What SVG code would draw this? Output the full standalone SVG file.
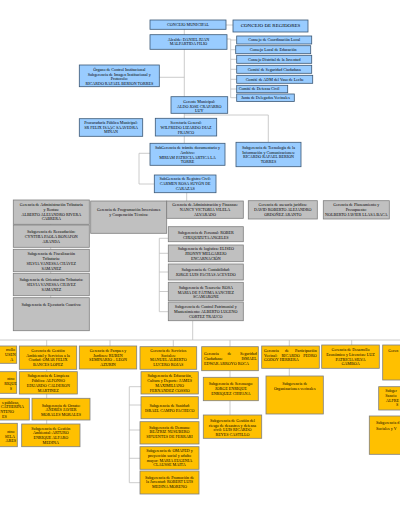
<svg xmlns="http://www.w3.org/2000/svg" width="400" height="516" viewBox="0 0 400 516">
<style>
.b{fill:#99CCFF;stroke:#3B5876;stroke-width:0.8}
.g{fill:#C0C0C0;stroke:#7F7F7F;stroke-width:0.8}
.y{fill:#FFC000;stroke:#7F7F7F;stroke-width:0.8}
text{font-family:"Liberation Serif","Times New Roman",serif;font-size:4.1px;fill:#000}
.c{text-anchor:middle}
.e{text-anchor:end}
.big{font-size:5px}
.conn{fill:none;stroke:#BFBFBF;stroke-width:0.8}
</style>
<rect width="400" height="516" fill="#fff"/>
<g id="connectors" class="conn">
<path d="M184.3 29V97 M159.3 77.3H184.3 M226 25H233 M227 39H230.7 M230.7 39V97.7 M230.7 40H236.7 M230.7 49.7H235.7 M230.7 59.3H236.7 M230.7 69.3H236.7 M230.7 79.3H236.7 M230.7 89H236.7 M230.7 97.7H236.7 M184.3 113V143 M184.3 115H268.3V142.3 M150 153.3H139V184H154.3 M186.7 192.7V201 M50.7 224V298 M159.3 238.3V311.7 M159.3 238.3H168.3 M159.3 253.3H168.3 M159.3 272H168.3 M159.3 291.5H168.3 M159.3 311.7H168.3 M192.7 320.7V340 M0 340H400 M46.7 340V424 M110 340V346 M173.3 340V346.7 M230 340V415 M289.3 340V376 M351.7 340V345 M129.3 386.7V482.7 M129.3 386.7H141 M129.3 405H141 M129.3 430H140 M129.3 458.3H140 M129.3 482.7H140"/>
</g>
<g id="concejo-municipal"><rect class="b" x="150" y="20" width="76" height="9.3"/><text class="c"><tspan x="188" y="26.2">CONCEJO MUNICIPAL</tspan></text></g>
<g id="concejo-regidores"><rect class="b" x="233" y="20" width="75" height="12"/><text class="c big"><tspan x="270.5" y="27">CONCEJO DE REGIDORES</tspan></text></g>
<g id="alcalde"><rect class="b" x="150" y="34.7" width="77" height="14.6"/><text class="c"><tspan x="188.5" y="40.7">Alcalde: DANIEL JUAN</tspan><tspan x="188.5" y="45.4">MALPARTIDA FILIO</tspan></text></g>
<g id="consejo-coordinacion"><rect class="b" x="236.7" y="36" width="75" height="8"/><text class="c"><tspan x="274.2" y="41.4">Consejo de Coordinación Local</tspan></text></g>
<g id="consejo-educacion"><rect class="b" x="235.7" y="45.7" width="75" height="8"/><text class="c"><tspan x="273.2" y="51.1">Consejo Local de Educación</tspan></text></g>
<g id="consejo-juventud"><rect class="b" x="236.7" y="55.3" width="75" height="8"/><text class="c"><tspan x="274.2" y="60.7">Consejo Distrital de la Juventud</tspan></text></g>
<g id="comite-seguridad"><rect class="b" x="236.7" y="65.3" width="75" height="8"/><text class="c"><tspan x="274.2" y="70.7">Comité de Seguridad Ciudadana</tspan></text></g>
<g id="comite-vaso-leche"><rect class="b" x="236.7" y="75.3" width="76" height="8"/><text class="c"><tspan x="274.7" y="80.7">Comité de ADM del Vaso de Leche</tspan></text></g>
<g id="comite-defensa-civil"><rect class="b" x="236.7" y="85.3" width="51" height="7.4"/><text class="c"><tspan x="259" y="90.4">Comité de Defensa Civil</tspan></text></g>
<g id="junta-delegados"><rect class="b" x="236.7" y="94" width="57.6" height="7.4"/><text class="c"><tspan x="265.5" y="99.1">Junta de Delegados Vecinales</tspan></text></g>
<g id="organo-control"><rect class="b" x="79.3" y="65" width="80" height="21.7"/><text class="c"><tspan x="119.3" y="70.7">Órgano de Control Institucional</tspan><tspan x="119.3" y="75.5">Subgerencia de Imagen Institucional y</tspan><tspan x="119.3" y="80.2">Protocolo:</tspan><tspan x="119.3" y="85">RICARDO RAFAEL BERION TORRES</tspan></text></g>
<g id="gerente-municipal"><rect class="b" x="171" y="96.7" width="56.7" height="16.6"/><text class="c"><tspan x="199.3" y="102.7">Gerente Municipal:</tspan><tspan x="199.3" y="107.5">ALDO JOSE CRAPARRO</tspan><tspan x="199.3" y="112">LUY</tspan></text></g>
<g id="procuraduria"><rect class="b" x="79.3" y="118.7" width="63.4" height="17.6"/><text class="c"><tspan x="111" y="124.1">Procuraduría Pública Municipal:</tspan><tspan x="111" y="128.7">SR FELIX ISAAC SAAVEDRA</tspan><tspan x="111" y="133.4">MIÑAN</tspan></text></g>
<g id="secretaria-general"><rect class="b" x="155.3" y="118.3" width="61.4" height="17.7"/><text class="c"><tspan x="186" y="124.4">Secretaría General:</tspan><tspan x="186" y="129.4">WILFREDO LIZARDO DIAZ</tspan><tspan x="186" y="134">FRANCO</tspan></text></g>
<g id="tramite-documentario"><rect class="b" x="150" y="143.3" width="75" height="22"/><text class="c"><tspan x="187.5" y="149.1">SubGerencia de trámite documentario y</tspan><tspan x="187.5" y="153.7">Archivo:</tspan><tspan x="187.5" y="158.7">MIRIAM PATRICIA ARTICA LA</tspan><tspan x="187.5" y="163.4">TORRE</tspan></text></g>
<g id="tecnologia"><rect class="b" x="236" y="142.3" width="65" height="24.4"/><text class="c"><tspan x="268.5" y="149.1">Subgerencia de Tecnología de la</tspan><tspan x="268.5" y="153.7">Información y Comunicaciones:</tspan><tspan x="268.5" y="158.4">RICARDO RAFAEL BERION</tspan><tspan x="268.5" y="163.1">TORRES</tspan></text></g>
<g id="registro-civil"><rect class="b" x="154.3" y="175" width="61.7" height="17.7"/><text class="c"><tspan x="185.2" y="179.7">SubGerencia de Registro Civil:</tspan><tspan x="185.2" y="184.7">CARMEN ROSA SUYÓN DE</tspan><tspan x="185.2" y="189.7">CARAZAS</tspan></text></g>
<g id="ger-tributaria"><rect class="g" x="13.3" y="200" width="76" height="24.3"/><text class="c"><tspan x="51.3" y="206.4">Gerencia de Administración Tributaria</tspan><tspan x="51.3" y="211.4">y Rentas:</tspan><tspan x="51.3" y="215.7">ALBERTO ALEJANDRO RIVERA</tspan><tspan x="51.3" y="220.4">CABRERA</tspan></text></g>
<g id="ger-programacion"><rect class="g" x="90.7" y="201" width="76" height="32.3"/><text class="c"><tspan x="128.7" y="211.4">Gerencia de Programación Inversiones</tspan><tspan x="128.7" y="215.7">y Cooperación Técnica:</tspan></text></g>
<g id="ger-finanzas"><rect class="g" x="166.7" y="201" width="76.6" height="17.3"/><text class="c"><tspan x="205" y="206.4">Gerencia de Administración y Finanzas:</tspan><tspan x="205" y="211.4">NANCY VICTORIA VILELA</tspan><tspan x="205" y="215.7">ALVARADO</tspan></text></g>
<g id="ger-asesoria"><rect class="g" x="248.3" y="200.7" width="69" height="18.3"/><text class="c"><tspan x="282.8" y="206.4">Gerencia de asesoría jurídica:</tspan><tspan x="282.8" y="211.4">DAVID ROBERTO ALEJANDRO</tspan><tspan x="282.8" y="215.7">ORDOÑEZ ARANTO</tspan></text></g>
<g id="ger-planeamiento"><rect class="g" x="323.3" y="200.7" width="66" height="18.3"/><text class="c"><tspan x="356.3" y="206.4">Gerencia de Planeamiento y</tspan><tspan x="356.3" y="211.4">Presupuesto:</tspan><tspan x="356.3" y="215.7">NOLBERTO JAVIER LLASA BACA</tspan></text></g>
<g id="sub-recaudacion"><rect class="g" x="13.3" y="225" width="76" height="22.3"/><text class="c"><tspan x="51.3" y="233.1">Subgerencia de Recaudación:</tspan><tspan x="51.3" y="238.1">CYNTHIA PAOLA BONAFON</tspan><tspan x="51.3" y="243.1">ARANDA</tspan></text></g>
<g id="sub-fiscalizacion"><rect class="g" x="13.3" y="249.3" width="76" height="22.4"/><text class="c"><tspan x="51.3" y="255.4">Subgerencia de Fiscalización</tspan><tspan x="51.3" y="259.7">Tributaria:</tspan><tspan x="51.3" y="264.7">SILVIA VANESSA CHÁVEZ</tspan><tspan x="51.3" y="269.7">SAMANEZ</tspan></text></g>
<g id="sub-orientacion"><rect class="g" x="13.3" y="273.3" width="76" height="22.4"/><text class="c"><tspan x="51.3" y="280.7">Subgerencia de Orientación Tributaria:</tspan><tspan x="51.3" y="285.7">SILVIA VANESSA CHAVEZ</tspan><tspan x="51.3" y="290.7">SAMANEZ</tspan></text></g>
<g id="sub-ejecutoria"><rect class="g" x="13.3" y="297.7" width="76" height="33"/><text class="c"><tspan x="51.3" y="306.1">Subgerencia de Ejecutoría Coactiva:</tspan></text></g>
<g id="sub-personal"><rect class="g" x="168.3" y="226.7" width="75" height="15"/><text class="c"><tspan x="205.8" y="233.7">Subgerencia de Personal: ROBER</tspan><tspan x="205.8" y="238.7">CHUQUIZUTA ANGELES</tspan></text></g>
<g id="sub-logistica"><rect class="g" x="168.3" y="245" width="75" height="16.7"/><text class="c"><tspan x="205.8" y="249.7">Subgerencia de logística: ELISEO</tspan><tspan x="205.8" y="254.7">JHONNY MELGAREJO</tspan><tspan x="205.8" y="259.7">ENCARNACIÓN</tspan></text></g>
<g id="sub-contabilidad"><rect class="g" x="168.3" y="264" width="75" height="16"/><text class="c"><tspan x="205.8" y="271.4">Subgerencia de Contabilidad:</tspan><tspan x="205.8" y="276.4">JORGE LUIS PACHAS ACEVEDO</tspan></text></g>
<g id="sub-tesoreria"><rect class="g" x="168.3" y="282.3" width="75" height="18.4"/><text class="c"><tspan x="205.8" y="288.7">Subgerencia de Tesorería: ROSA</tspan><tspan x="205.8" y="293.7">MARIA DE FÁTIMA SANCHEZ</tspan><tspan x="205.8" y="298.4">SCAMARONE</tspan></text></g>
<g id="sub-patrimonial"><rect class="g" x="168.3" y="302" width="75" height="18.7"/><text class="c"><tspan x="205.8" y="308.1">Subgerencia de Control Patrimonial y</tspan><tspan x="205.8" y="312.7">Mantenimiento: ALBERTO LUGENO</tspan><tspan x="205.8" y="317.7">CORTEZ TRAUCO</tspan></text></g>
<g id="ger-cut-left"><rect class="y" x="-40" y="346" width="56.7" height="17.3"/><text class="e"><tspan x="15" y="351.4">rrollo</tspan><tspan x="15.7" y="356.4">USEN</tspan><tspan x="13.3" y="361.4">A</tspan></text></g>
<g id="ger-gestion-ambiental"><rect class="y" x="19.3" y="346" width="57.4" height="23.3"/><text class="c"><tspan x="48" y="352.1">Gerencia de Gestión</tspan><tspan x="48" y="356.7">Ambiental y Servicios a la</tspan><tspan x="48" y="361.4">Ciudad: OMAR FELIX</tspan><tspan x="48" y="366.1">BANCES LOPEZ</tspan></text></g>
<g id="ger-parques"><rect class="y" x="79.3" y="346" width="57.4" height="23"/><text class="c"><tspan x="108" y="352.1">Gerencia de Parques y</tspan><tspan x="108" y="356.7">Jardines: RUBEN</tspan><tspan x="108" y="361.4">SEMINARIO – LEON</tspan><tspan x="108" y="365.9">AZURIN</tspan></text></g>
<g id="ger-servicios-sociales"><rect class="y" x="140" y="346.7" width="56.7" height="22.6"/><text class="c"><tspan x="168.3" y="352.4">Gerencia de Servicios</tspan><tspan x="168.3" y="357.1">Sociales:</tspan><tspan x="168.3" y="361.4">MANUEL ALBERTO</tspan><tspan x="168.3" y="366.4">LUCERO ROJAS</tspan></text></g>
<g id="ger-seguridad"><rect class="y" x="201.7" y="346.7" width="56.6" height="24"/>
<text><tspan x="204" y="354.7">Gerencia</tspan><tspan x="204" y="359.7">Ciudadana:</tspan><tspan x="204" y="364.7">EDWAR ARROYO ROCA</tspan></text>
<text class="c"><tspan x="229.5" y="354.7">de</tspan></text>
<text class="e"><tspan x="256.7" y="354.7">Seguridad</tspan><tspan x="256.7" y="359.7">ISMAEL</tspan></text></g>
<g id="ger-participacion"><rect class="y" x="261.7" y="346" width="57.6" height="22.3"/>
<text><tspan x="264" y="352.1">Gerencia</tspan><tspan x="264" y="356.7">Vecinal:</tspan><tspan x="264" y="361.4">GODOY HERRERA</tspan></text>
<text class="c"><tspan x="287" y="352.1">de</tspan><tspan x="290.6" y="356.7">RICARDO</tspan></text>
<text class="e"><tspan x="316.7" y="352.1">Participación</tspan><tspan x="316.7" y="356.7">PEDRO</tspan></text></g>
<g id="ger-desarrollo-economico"><rect class="y" x="321.7" y="345" width="57.6" height="23.3"/><text class="c"><tspan x="350.5" y="351.4">Gerencia de Desarrollo</tspan><tspan x="350.5" y="356.4">Económico y Licencias: LUZ</tspan><tspan x="350.5" y="360.7">PATRICIA SILVA</tspan><tspan x="350.5" y="365.4">GAMBOA</tspan></text></g>
<g id="ger-cut-right"><rect class="y" x="382.7" y="345" width="40" height="35"/><text><tspan x="388.3" y="352.1">Geren</tspan></text></g>
<g id="sub-cut-left-1"><rect class="y" x="-40" y="371.7" width="56.7" height="21.6"/><text class="e"><tspan x="15" y="379.7">ntro:</tspan><tspan x="16.7" y="384.7">RIQUE</tspan><tspan x="12" y="389.7">S</tspan></text></g>
<g id="sub-limpieza"><rect class="y" x="19.3" y="371.7" width="58" height="22.3"/><text class="c"><tspan x="48.3" y="377.4">Subgerencia de Limpieza</tspan><tspan x="48.3" y="382.4">Pública: ALFONSO</tspan><tspan x="48.3" y="387.4">EDUARDO CALDERON</tspan><tspan x="48.3" y="392.4">MARTINEZ</tspan></text></g>
<g id="sub-cut-left-2"><rect class="y" x="-30" y="398.3" width="59.3" height="21.7"/><text class="e"><tspan x="19.3" y="403.7">s públicas,</tspan><tspan x="24" y="408.4">CATHERINA</tspan><tspan x="14" y="413.1">NTENO</tspan><tspan x="6.7" y="417.7">ES</tspan></text></g>
<g id="sub-ornato"><rect class="y" x="32" y="398.3" width="58" height="21.7"/><text class="c"><tspan x="61" y="406.7">Subgerencia de Ornato:</tspan><tspan x="61" y="411.4">ANDRÉS JAVIER</tspan><tspan x="61" y="416.1">MORALES MORALES</tspan></text></g>
<g id="sub-cut-left-3"><rect class="y" x="-40" y="423.3" width="57.3" height="23.4"/><text class="e"><tspan x="15" y="433.1">ntro:</tspan><tspan x="15" y="437.6">SELA</tspan><tspan x="16" y="442.1">ARES</tspan></text></g>
<g id="sub-gestion-ambiental"><rect class="y" x="21.7" y="424" width="58.3" height="22.7"/><text class="c"><tspan x="50.8" y="429.7">Subgerencia de Gestión</tspan><tspan x="50.8" y="434.4">Ambiental: ARTURO</tspan><tspan x="50.8" y="439.1">ENRIQUE ALFARO</tspan><tspan x="50.8" y="443.8">MEDINA</tspan></text></g>
<g id="sub-educacion"><rect class="y" x="141" y="371.7" width="57.3" height="22.3"/><text class="c"><tspan x="169.7" y="377.4">Subgerencia de Educación,</tspan><tspan x="169.7" y="382.1">Cultura y Deporte: JAMES</tspan><tspan x="169.7" y="387.1">MAXIMILIANO</tspan><tspan x="169.7" y="392.1">FERNANDEZ COSSIO</tspan></text></g>
<g id="sub-sanidad"><rect class="y" x="141" y="396.7" width="57.3" height="22"/><text class="c"><tspan x="169.7" y="407.1">Subgerencia de Sanidad:</tspan><tspan x="169.7" y="412.1">ISRAEL CAMPO PACHECO</tspan></text></g>
<g id="sub-demuna"><rect class="y" x="140" y="421.7" width="59" height="22.3"/><text class="c"><tspan x="169.5" y="428.7">Subgerencia de Demuna:</tspan><tspan x="169.5" y="433.1">BEATRIZ NUSUBERO</tspan><tspan x="169.5" y="438.1">SIFUENTES DE FERRARI</tspan></text></g>
<g id="sub-omaped"><rect class="y" x="140" y="446.7" width="59" height="22.6"/><text class="c"><tspan x="169.5" y="452.4">Subgerencia de OMAPED y</tspan><tspan x="169.5" y="457.1">proyección social y adulto</tspan><tspan x="169.5" y="461.7">mayor: MARIA EUGENIA</tspan><tspan x="169.5" y="466.4">CLAUSSE MAITA</tspan></text></g>
<g id="sub-juventud"><rect class="y" x="140" y="471" width="59" height="23"/><text class="c"><tspan x="169.5" y="478.7">Subgerencia de Promoción de</tspan><tspan x="169.5" y="483.4">la Juventud:  ROBERT LUIS</tspan><tspan x="169.5" y="488.1">MEDINA MORENO</tspan></text></g>
<g id="sub-serenazgo"><rect class="y" x="203.3" y="377.3" width="55" height="23.4"/><text class="c"><tspan x="230.8" y="384.7">Subgerencia de Serenazgo:</tspan><tspan x="230.8" y="389.7">JORGE ENRIQUE</tspan><tspan x="230.8" y="394.7">ENRIQUEZ CHIPANA</tspan></text></g>
<g id="sub-riesgo"><rect class="y" x="203.3" y="415" width="58.4" height="23.3"/><text class="c"><tspan x="232.5" y="422.1">Subgerencia de Gestión del</tspan><tspan x="232.5" y="426.8">riesgo de desastres y defensa</tspan><tspan x="232.5" y="431.4">civil: LUIS RICARDO</tspan><tspan x="232.5" y="436.1">REYES CASTILLO</tspan></text></g>
<g id="sub-organizaciones"><rect class="y" x="266" y="376" width="57.3" height="38"/><text class="c"><tspan x="294.7" y="384.7">Subgerencia de</tspan><tspan x="294.7" y="389.7">Organizaciones vecinales</tspan></text></g>
<g id="sub-cut-right-1"><rect class="y" x="378.7" y="386.7" width="40" height="23.3"/><text><tspan x="385.3" y="392.4">Subger</tspan><tspan x="385.3" y="397.1">Sancio</tspan><tspan x="386" y="401.7">ALFRE</tspan><tspan x="396" y="406.4">S</tspan></text></g>
<g id="sub-cut-right-2"><rect class="y" x="369.3" y="416" width="50" height="38.3"/><text><tspan x="376" y="424">Subgerencia d</tspan><tspan x="376" y="429.7">Sociales y V</tspan></text></g>
</svg>
